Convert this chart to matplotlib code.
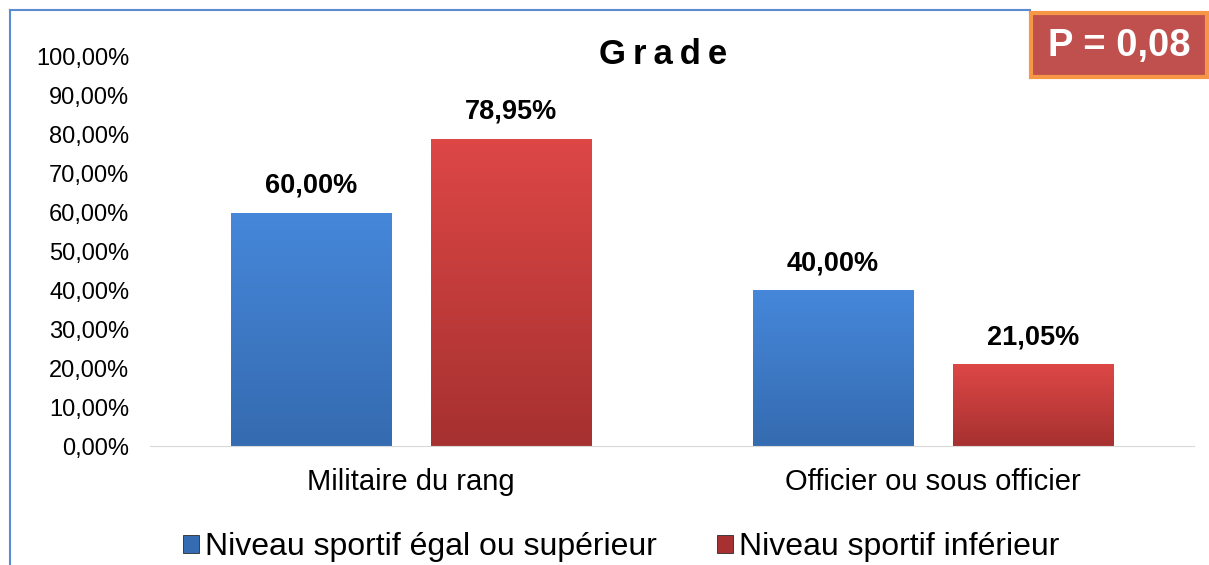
import numpy as np
import matplotlib
matplotlib.use("Agg")
import matplotlib.pyplot as plt
from matplotlib.colors import LinearSegmentedColormap
from matplotlib.patches import Rectangle
from matplotlib.lines import Line2D

plt.rcParams["font.family"] = ["Liberation Sans", "DejaVu Sans"]

# data
categories = ["Militaire du rang", "Officier ou sous officier"]
series_names = ["Niveau sportif égal ou supérieur", "Niveau sportif inférieur"]
values_sup = [60.00, 40.00]
values_inf = [78.95, 21.05]
y_ticks = [0, 10, 20, 30, 40, 50, 60, 70, 80, 90, 100]
title = "Grade"
p_text = "P = 0,08"

blue_top, blue_bot = "#4687DA", "#356BB0"
red_top, red_bot = "#DD4746", "#A63130"

fig = plt.figure(figsize=(12.09, 5.65), dpi=100)
ax = fig.add_axes([150 / 1209, 1 - 446 / 565, 1044 / 1209, (446 - 57) / 565])

x = np.arange(len(categories))
width = 0.307
offset = (width + 0.077) / 2


def grad_bars(xs, vals, c_top, c_bot, label):
    bars = ax.bar(xs, vals, width, color=c_top, edgecolor="#2b2b2b",
                  linewidth=0.6, label=label, zorder=2)
    cmap = LinearSegmentedColormap.from_list("g", [c_bot, c_top])
    for b in bars:
        x0, w, h = b.get_x(), b.get_width(), b.get_height()
        im = ax.imshow(np.linspace(0, 1, 100).reshape(-1, 1), cmap=cmap,
                       origin="lower", extent=[x0, x0 + w, 0, h],
                       aspect="auto", zorder=2.5)
        im.set_clip_path(b)
        ax.text(x0 + w / 2, h + 3.6, f"{h:.2f}%".replace(".", ","),
                ha="center", va="bottom", fontsize=19.5, fontweight="bold")
    return bars


grad_bars(x - offset, values_sup, blue_top, blue_bot, series_names[0])
grad_bars(x + offset, values_inf, red_top, red_bot, series_names[1])

ax.set_xlim(-0.5, 1.5)
ax.set_ylim(0, 100)
ax.set_yticks(y_ticks)
ax.set_yticklabels([f"{v:.2f}%".replace(".", ",") for v in y_ticks], fontsize=17)
ax.set_xticks(x)
ax.set_xticklabels(categories, fontsize=21)
ax.tick_params(axis="y", length=0, pad=15)
ax.tick_params(axis="x", length=0, pad=16)
for s in ["top", "right", "left"]:
    ax.spines[s].set_visible(False)
ax.spines["bottom"].set_color("#d9d9d9")

fig.text(663 / 1209, 1 - 55 / 565, "\u2009".join(title), ha="center", va="center",
         fontsize=25, fontweight="bold")

# outer chart border (partially visible)
fig.add_artist(Line2D([10 / 1209, 10 / 1209], [0, 1 - 10 / 565], color="#5B8BD0", lw=1.5))
fig.add_artist(Line2D([10 / 1209, 1030 / 1209], [1 - 10 / 565, 1 - 10 / 565], color="#5B8BD0", lw=1.5))

# p-value box
fig.add_artist(Rectangle((1031 / 1209, 1 - 77 / 565), 176 / 1209, 64 / 565,
                         facecolor="#C0504D", edgecolor="#F79646", lw=3,
                         transform=fig.transFigure))
fig.text(1119 / 1209, 1 - 46 / 565, p_text, ha="center", va="center",
         fontsize=27.5, fontweight="bold", color="white")

handles = [Rectangle((0, 0), 1, 1, facecolor=blue_bot, edgecolor="#2b2b2b", lw=0.6),
           Rectangle((0, 0), 1, 1, facecolor=red_bot, edgecolor="#2b2b2b", lw=0.6)]
fig.legend(handles, series_names, loc="center", bbox_to_anchor=(621 / 1209, 1 - 547 / 565),
           ncol=2, frameon=False, fontsize=23, handlelength=0.5, handleheight=0.5,
           handletextpad=0.18, columnspacing=1.9, borderpad=0)

fig.savefig("out.png", dpi=100)
